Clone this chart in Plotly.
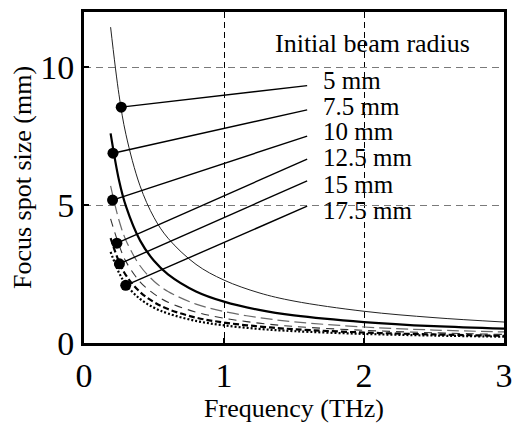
import plotly.graph_objects as go

# Frequency samples (THz) and focus spot size (mm) for each initial beam radius
freq = [0.19, 0.25, 0.3, 0.4, 0.5, 0.6, 0.8, 1.0, 1.25, 1.5, 2.0, 2.5, 3.0]
spot_5 = [11.45, 9.0, 7.55, 5.7, 4.55, 3.8, 2.85, 2.28, 1.82, 1.52, 1.15, 0.92, 0.76]
spot_7_5 = [7.6, 5.9, 4.95, 3.72, 2.98, 2.49, 1.87, 1.5, 1.2, 1.0, 0.76, 0.61, 0.52]
spot_10 = [5.7, 4.45, 3.72, 2.8, 2.24, 1.87, 1.41, 1.14, 0.92, 0.77, 0.58, 0.47, 0.4]
spot_12_5 = [4.5, 3.55, 2.95, 2.22, 1.78, 1.48, 1.12, 0.9, 0.72, 0.6, 0.46, 0.37, 0.31]
spot_15 = [3.8, 2.95, 2.45, 1.85, 1.48, 1.23, 0.92, 0.74, 0.6, 0.5, 0.38, 0.31, 0.26]
spot_17_5 = [3.3, 2.55, 2.12, 1.6, 1.28, 1.07, 0.8, 0.64, 0.51, 0.43, 0.33, 0.27, 0.23]

labels = ["5 mm", "7.5 mm", "10 mm", "12.5 mm", "15 mm", "17.5 mm"]

# Callout dots on each curve and where their leader lines end
dot_x = [0.266, 0.207, 0.204, 0.235, 0.253, 0.298]
dot_y = [8.55, 6.88, 5.18, 3.62, 2.87, 2.09]
leader_end_x = 1.594
leader_end_y = [9.33, 8.45, 7.5, 6.67, 5.88, 4.96]
label_x = 1.69
label_y = [9.51, 8.57, 7.65, 6.71, 5.75, 4.81]

x_ticks = [0, 1, 2, 3]
y_ticks = [0, 5, 10]

series = [spot_5, spot_7_5, spot_10, spot_12_5, spot_15, spot_17_5]
styles = [
    dict(color="#222222", width=1.0, dash="solid"),
    dict(color="#000000", width=2.2, dash="solid"),
    dict(color="#6a6a6a", width=1.2, dash="12px,5px"),
    dict(color="#333333", width=1.1, dash="8px,6px"),
    dict(color="#000000", width=2.2, dash="6px,3px"),
    dict(color="#000000", width=2.2, dash="2px,2px"),
]

SERIF = "Liberation Serif, Times New Roman, serif"

fig = go.Figure()

for ys, st, name in zip(series, styles, labels):
    fig.add_trace(go.Scatter(
        x=freq, y=ys, mode="lines", name=name,
        line=dict(color=st["color"], width=st["width"], dash=st["dash"],
                  shape="spline", smoothing=1.0),
        showlegend=False, hoverinfo="skip",
    ))

# Leader lines from each dot to its label
for dx, dy, ey in zip(dot_x, dot_y, leader_end_y):
    fig.add_trace(go.Scatter(
        x=[dx, leader_end_x], y=[dy, ey], mode="lines",
        line=dict(color="black", width=1.4),
        showlegend=False, hoverinfo="skip",
    ))

fig.add_trace(go.Scatter(
    x=dot_x, y=dot_y, mode="markers",
    marker=dict(color="black", size=11, line=dict(width=0)),
    showlegend=False, hoverinfo="skip",
))

for txt, ly in zip(labels, label_y):
    fig.add_annotation(x=label_x, y=ly, text=txt, showarrow=False,
                       xanchor="left", yanchor="middle",
                       font=dict(family=SERIF, size=25, color="black"))

fig.add_annotation(x=1.35, y=10.86, text="Initial beam radius", showarrow=False,
                   xanchor="left", yanchor="middle",
                   font=dict(family=SERIF, size=26, color="black"))

fig.update_layout(
    width=522, height=423,
    margin=dict(l=84, r=9, t=10, b=75),
    paper_bgcolor="white", plot_bgcolor="white",
    font=dict(family=SERIF, color="black"),
)

fig.update_xaxes(
    range=[0, 3], tickvals=x_ticks, ticks="inside", ticklen=5, tickwidth=1.5,
    tickcolor="black", tickfont=dict(family=SERIF, size=34),
    showgrid=True, gridcolor="black", gridwidth=1, griddash="6px,4px",
    showline=True, linecolor="black", linewidth=3, mirror=True, zeroline=False,
    title=dict(text="Frequency (THz)", font=dict(family=SERIF, size=26), standoff=2),
)
fig.update_yaxes(
    range=[0, 12], tickvals=y_ticks, ticks="inside", ticklen=5, tickwidth=1.5,
    tickcolor="black", tickfont=dict(family=SERIF, size=34),
    showgrid=True, gridcolor="#7a7a7a", gridwidth=1, griddash="7px,5px",
    showline=True, linecolor="black", linewidth=3, mirror=True, zeroline=False,
    title=dict(text="Focus spot size (mm)", font=dict(family=SERIF, size=26), standoff=2),
)

fig.write_html("out.html")
